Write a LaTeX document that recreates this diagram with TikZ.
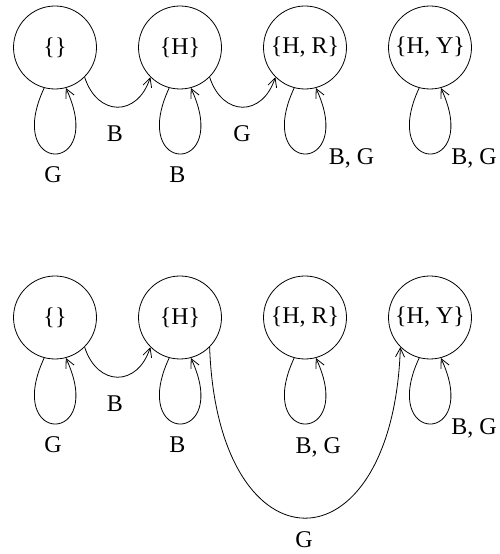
\documentclass[tikz,border=0pt]{standalone}
\usepackage{fontspec}
\setmainfont{Liberation Serif}
\usetikzlibrary{arrows.meta}
\begin{document}
\begin{tikzpicture}[x=1pt,y=1pt,
  every node/.style={font=\fontsize{24}{28}\selectfont},
  state/.style={draw, circle, minimum size=83pt, inner sep=0pt, line width=0.8pt},
  lbl/.style={anchor=base, inner sep=0pt},
  conn/.style={line width=0.8pt, -{Straight Barb[length=9pt,width=9pt,line width=0.8pt]}}]
\useasboundingbox (0,0) rectangle (500,554);
% top row
\node[state] (a1) at (55,506.5) {\{\}};
\node[state] (b1) at (180,506.5) {\{H\}};
\node[state] (c1) at (305,506.5) {\{H, R\}};
\node[state] (d1) at (430,506.5) {\{H, Y\}};
% bottom row
\node[state] (a2) at (55,236.5) {\{\}};
\node[state] (b2) at (180,236.5) {\{H\}};
\node[state] (c2) at (305,236.5) {\{H, R\}};
\node[state] (d2) at (430,236.5) {\{H, Y\}};
% loops
\foreach \n in {a1,b1,c1,d1,a2,b2,c2,d2}{
  \draw[conn] (\n.-105) .. controls +(-115:97) and +(-65:97) .. (\n.-75);
}
% top edges
\draw[conn] (a1.-45) .. controls +(-72:42) and +(-108:42) .. (b1.-135);
\draw[conn] (b1.-45) .. controls +(-72:42) and +(-108:42) .. (c1.-135);
% bottom edges
\draw[conn] (a2.-45) .. controls +(-72:42) and +(-108:42) .. (b2.-135);
\draw[conn] (b2.-45) .. controls +(-88:228) and +(-92:228) .. (d2.-135);
% labels top
\node[lbl] (la1) at (53,371) {G};
\node[lbl] (lab1) at (115,412.3) {B};
\node[lbl] (lb1) at (177.5,371) {B};
\node[lbl] (lbc1) at (242,412.3) {G};
\node[lbl] (lc1) at (351.5,389) {B, G};
\node[lbl] (ld1) at (474,389) {B, G};
% labels bottom
\node[lbl] (la2) at (53,101) {G};
\node[lbl] (lab2) at (115,142.3) {B};
\node[lbl] (lb2) at (177.5,101) {B};
\node[lbl] (lc2) at (318.3,100) {B, G};
\node[lbl] (ld2) at (474,119) {B, G};
\node[lbl] (lbd2) at (304,6.5) {G};
\end{tikzpicture}
\end{document}
